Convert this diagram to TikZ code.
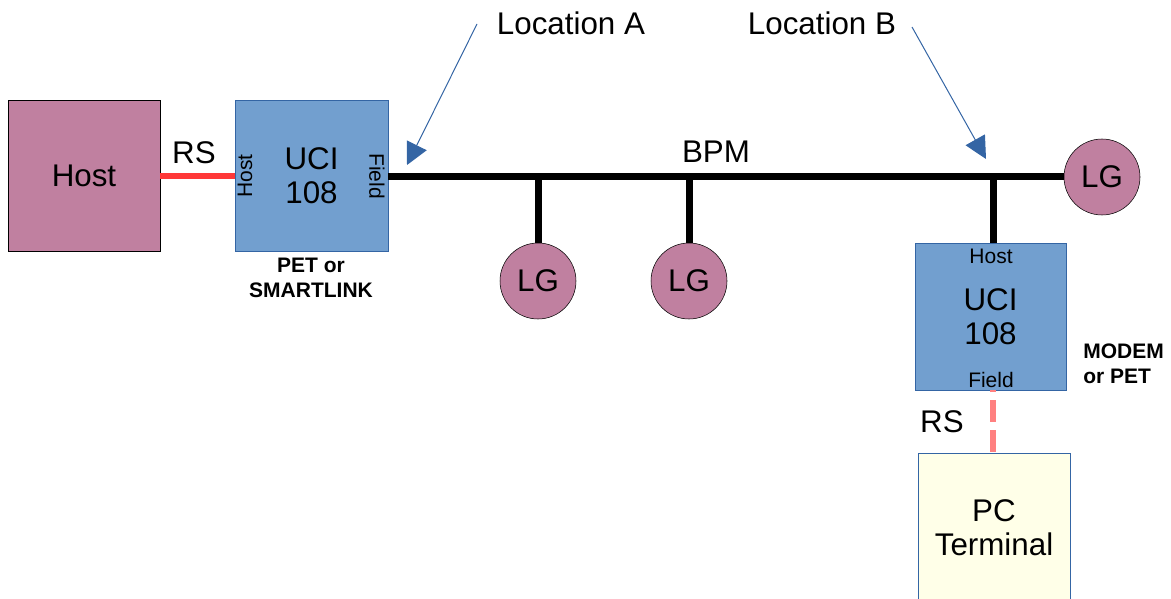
\documentclass[tikz,border=0pt]{standalone}
\usepackage{fontspec}
\setmainfont{Liberation Sans}
\usetikzlibrary{calc,arrows.meta,positioning}
\definecolor{mauve}{RGB}{192,128,160}
\definecolor{ucifill}{RGB}{114,159,207}
\definecolor{ucidraw}{RGB}{52,101,164}
\definecolor{ivory}{RGB}{255,255,232}
\definecolor{rsred}{RGB}{255,56,56}
\definecolor{rspink}{RGB}{255,128,128}

\begin{document}
\begin{tikzpicture}[x=0.75pt,y=-0.75pt]

\tikzset{bigtext/.style={font=\fontsize{23.5}{25.5}\selectfont,align=center,inner sep=0pt},
smalltext/.style={font=\fontsize{15.75}{18}\selectfont,inner sep=0pt},
boldtext/.style={font=\bfseries\fontsize{15.75}{18.5}\selectfont,inner sep=0pt},
hostbox/.style={bigtext,fill=mauve,draw=black,minimum width=114pt,minimum height=113.25pt},
ucibox/.style={bigtext,fill=ucifill,draw=ucidraw,minimum width=114.75pt,minimum height=113.25pt},
pcbox/.style={bigtext,fill=ivory,draw=ucidraw,minimum width=114pt,minimum height=112pt},
lgnode/.style={bigtext,fill=mauve,draw=black,shape=circle,minimum size=57pt},
bus/.style={line width=5.25pt},
pointer/.style={draw=ucidraw,line width=0.75pt,-{Triangle[length=16.5pt,width=16.5pt]}}}

\useasboundingbox (0,0) rectangle (1171,599);

% Boxes
\node[hostbox] (host) at (84,176) {Host};
\node[ucibox] (uciA) at (311.5,176) {UCI\\108};
\node[ucibox,minimum width=113.25pt,minimum height=110.25pt] (uciB) at (990.5,316.5) {UCI\\108};
\node[pcbox] (pc) at (994,527.5) {PC\\Terminal};
\coordinate (drop) at (993,316.5);

% Port labels
\node[smalltext,rotate=90] (uciAhost) at (245,176) {Host};
\node[smalltext,rotate=-90] (uciAfield) at (377,176) {Field};
\node[smalltext] (uciBhost) at (991,256) {Host};
\node[smalltext] (uciBfield) at (991,380) {Field};

% LG nodes
\node[lgnode] (lgA) at (538,281) {LG};
\node[lgnode] (lgB) at (689,281) {LG};
\node[lgnode] (lgC) at (1102,177) {LG};

% Edges
\draw[bus] (uciA.east |- lgC) -- (lgC.west);
\draw[bus] (lgA.north |- lgC) -- (lgA.north);
\draw[bus] (lgB.north |- lgC) -- (lgB.north);
\draw[bus] (drop |- lgC) -- (drop |- uciB.north);
\draw[rsred,line width=4.5pt] (host.east) -- (uciA.west);
\draw[rspink,line width=4.5pt,dash pattern=on 16.5pt off 6pt,dash phase=15pt] (drop |- uciB.south) -- (drop |- pc.north);

% Texts
\node[bigtext] (rsA) at (194,153) {RS};
\node[bigtext] (rsB) at (942,422) {RS};
\node[bigtext] (bpm) at (716,152) {BPM};
\node[boldtext,align=center] (petA) at (311,278) {PET or\\SMARTLINK};
\node[boldtext,align=left,anchor=west] (petB) at (1083,363.5) {MODEM\\or PET};

% Locations
\node[bigtext] (locA) at (571,23) {Location A};
\node[bigtext] (locB) at (822,23) {Location B};
\coordinate (startA) at (477,24); \coordinate (tipA) at (407,165);
\coordinate (startB) at (912,27); \coordinate (tipB) at (986,159);
\draw[pointer] (startA) -- (tipA);
\draw[pointer] (startB) -- (tipB);

\end{tikzpicture}
\end{document}
